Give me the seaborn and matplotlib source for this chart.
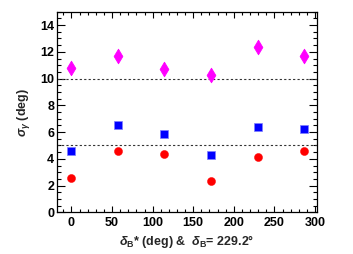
import numpy as np
import pandas as pd
import matplotlib
matplotlib.use('Agg')
import matplotlib.pyplot as plt
from matplotlib.ticker import MultipleLocator
import seaborn as sns

delta_b_star = [0.0, 57.3, 114.6, 171.9, 229.2, 286.5]
sigma_magenta = [10.82, 11.70, 10.75, 10.25, 12.38, 11.72]
sigma_blue = [4.61, 6.51, 5.89, 4.26, 6.36, 6.24]
sigma_red = [2.57, 4.56, 4.36, 2.36, 4.12, 4.57]
ref_levels = [5, 10]

sns.set_style("ticks")
plt.rcParams['font.family'] = ['Liberation Sans', 'DejaVu Sans']
plt.rcParams['font.weight'] = 'bold'
plt.rcParams['mathtext.fontset'] = 'custom'
plt.rcParams['mathtext.rm'] = 'Liberation Sans'
plt.rcParams['mathtext.it'] = 'Liberation Sans:italic'
plt.rcParams['mathtext.bf'] = 'Liberation Sans:bold'

fig = plt.figure(figsize=(3.53, 2.54), dpi=100)
ax = fig.add_axes([0.161, 0.164, 0.736, 0.790])

df = pd.DataFrame({'x': delta_b_star, 'm': sigma_magenta, 'b': sigma_blue, 'r': sigma_red})

for y in ref_levels:
    ax.axhline(y, color='#333333', lw=0.8, ls=(0, (2, 2)), zorder=1)

sns.scatterplot(data=df, x='x', y='m', marker='d', s=55, color='#ff00ff',
                edgecolor='#ff00ff', linewidth=0.6, ax=ax, zorder=3)
sns.scatterplot(data=df, x='x', y='b', marker='s', s=30, color='#0000ff',
                edgecolor='#8080ff', linewidth=0.5, ax=ax, zorder=3)
sns.scatterplot(data=df, x='x', y='r', marker='o', s=34, color='#ff0000',
                edgecolor='#ff0000', linewidth=0.3, ax=ax, zorder=3)

ax.set_xlim(-18, 302)
ax.set_ylim(0, 15)
ax.xaxis.set_major_locator(MultipleLocator(50))
ax.xaxis.set_minor_locator(MultipleLocator(10))
ax.yaxis.set_major_locator(MultipleLocator(2))
ax.yaxis.set_minor_locator(MultipleLocator(0.5))
ax.tick_params(which='both', direction='in', top=True, right=True, width=0.8,
               labelsize=9, colors='black')
ax.tick_params(axis='y', which='major', length=6, pad=2)
ax.tick_params(axis='y', which='minor', length=3)
ax.tick_params(axis='x', which='major', length=4.5, pad=3)
ax.tick_params(axis='x', which='minor', length=2.5)
for lab in ax.get_xticklabels() + ax.get_yticklabels():
    lab.set_fontweight('bold')
for sp in ax.spines.values():
    sp.set_linewidth(0.9)
    sp.set_color('black')

ax.set_xlabel(r'$\delta_{\mathbf{B}}$* (deg) &  $\delta_{\mathbf{B}}$= 229.2°',
              fontsize=9, fontweight='bold', labelpad=3)
ax.set_ylabel(r'$\sigma_{\gamma}$ (deg)', fontsize=9, fontweight='bold', labelpad=6)

fig.savefig('out.png', dpi=100)
